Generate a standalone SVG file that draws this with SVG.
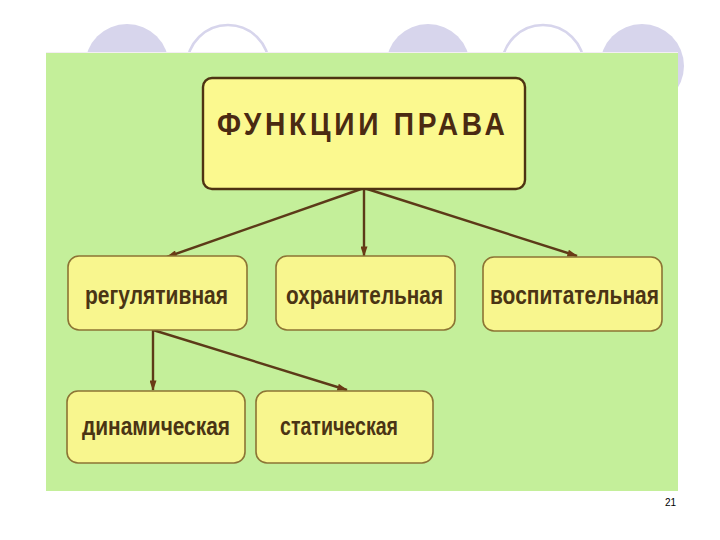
<svg xmlns="http://www.w3.org/2000/svg" width="720" height="540" viewBox="0 0 720 540">
<defs>
<style>
.deco-fill{fill:#d7d5ec}
.deco-ring{fill:none;stroke:#d7d5ec;stroke-width:2.5}
.box{fill:#f8f68e;stroke:#8c7434;stroke-width:1.6}
.title-box{fill:#fbf98f;stroke:#4e3312;stroke-width:2.4}
.lbl{font-family:"Liberation Sans","DejaVu Sans",sans-serif;font-weight:bold;fill:#4a3414;font-size:25px}
.title{font-family:"Liberation Sans","DejaVu Sans",sans-serif;font-weight:bold;fill:#4a2a12;font-size:32px}
.edge{stroke:#5c3a18;stroke-width:2.4;fill:none;marker-end:url(#ah)}
.pg{font-family:"Liberation Sans",Arial,sans-serif;font-size:10px;fill:#000}
</style>
<marker id="ah" viewBox="0 0 12 8" refX="11" refY="4" markerWidth="12" markerHeight="7" markerUnits="userSpaceOnUse" orient="auto">
<path d="M0,0 L12,4 L0,8 Z" fill="#6a3a16"/>
</marker>
</defs>
<rect x="0" y="0" width="720" height="540" fill="#ffffff"/>
<g id="decor">
<circle class="deco-fill" cx="127" cy="66" r="42"/>
<circle class="deco-ring" cx="228" cy="66" r="41"/>
<circle class="deco-fill" cx="428" cy="66" r="42"/>
<circle class="deco-ring" cx="543" cy="66" r="41"/>
<circle class="deco-fill" cx="642" cy="66" r="42"/>
<rect x="46" y="53" width="632" height="438" fill="#c4ef9a"/>
<line x1="46" y1="52.5" x2="678" y2="52.5" stroke="#f4eef4" stroke-width="1"/>
</g>
<g id="connectors">
<line class="edge" x1="364" y1="188" x2="167" y2="257"/>
<line class="edge" x1="364" y1="188" x2="364" y2="256"/>
<line class="edge" x1="364" y1="188" x2="577" y2="256"/>
<line class="edge" x1="153" y1="330" x2="153" y2="390"/>
<line class="edge" x1="153" y1="330" x2="347" y2="390"/>
</g>
<g id="n-title">
<rect class="title-box" x="203" y="78" width="322" height="111" rx="9"/>
<text class="title" transform="translate(217,135) scale(0.88,1)" x="0" y="0" textLength="327" lengthAdjust="spacing">ФУНКЦИИ  ПРАВА</text>
</g>
<g id="n-regul">
<rect class="box" x="68" y="256" width="179" height="74" rx="11"/>
<text class="lbl" x="85" y="304" textLength="143" lengthAdjust="spacingAndGlyphs">регулятивная</text>
</g>
<g id="n-okhran">
<rect class="box" x="276" y="256" width="179" height="74" rx="11"/>
<text class="lbl" x="286" y="304" textLength="157" lengthAdjust="spacingAndGlyphs">охранительная</text>
</g>
<g id="n-vospit">
<rect class="box" x="483" y="257" width="179" height="74" rx="11"/>
<text class="lbl" x="490" y="304" textLength="169" lengthAdjust="spacingAndGlyphs">воспитательная</text>
</g>
<g id="n-dinam">
<rect class="box" x="67" y="391" width="178" height="72" rx="11"/>
<text class="lbl" x="82" y="435" textLength="148" lengthAdjust="spacingAndGlyphs">динамическая</text>
</g>
<g id="n-stat">
<rect class="box" x="256" y="391" width="177" height="72" rx="11"/>
<text class="lbl" x="280" y="435" textLength="118" lengthAdjust="spacingAndGlyphs">статическая</text>
</g>
<text class="pg" x="665" y="506">21</text>
</svg>
